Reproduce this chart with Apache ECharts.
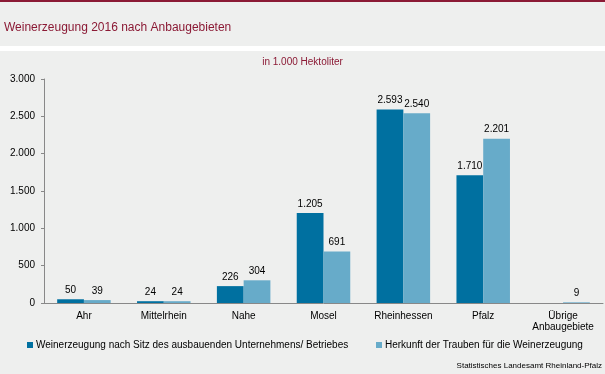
<!DOCTYPE html>
<html><head><meta charset="utf-8">
<script src="https://cdn.jsdelivr.net/npm/echarts@6/dist/echarts.min.js"></script>
<style>html,body{margin:0;padding:0;background:#fff;}#c{width:605px;height:374px;}</style>
</head><body><div id="c"></div>
<script>
const categories = ['Ahr', 'Mittelrhein', 'Nahe', 'Mosel', 'Rheinhessen', 'Pfalz', 'Übrige\nAnbaugebiete'];
const seriesNames = ['Weinerzeugung nach Sitz des ausbauenden Unternehmens/ Betriebes', 'Herkunft der Trauben für die Weinerzeugung'];
const sitzValues = [50, 24, 226, 1205, 2593, 1710, null];
const herkunftValues = [39, 24, 304, 691, 2540, 2201, 9];
const yTicks = [0, 500, 1000, 1500, 2000, 2500, 3000];

const fmt = v => String(v).replace(/\B(?=(\d{3})+(?!\d))/g, '.');
const FONT = 'Liberation Sans, Arial, sans-serif';
const chart = echarts.init(document.getElementById('c'), null, {renderer: 'canvas'});
const labelCfg = {show: true, position: 'top', distance: 4, color: '#000', fontSize: 10, fontFamily: FONT,
  formatter: p => p.value == null ? '' : fmt(p.value)};
chart.setOption({
  backgroundColor: '#eeefee',
  animation: false,
  graphic: [
    {type: 'rect', left: 0, top: 0, shape: {width: 605, height: 2}, style: {fill: '#8b1a35'}, z: 10},
    {type: 'rect', left: 0, top: 46, shape: {width: 605, height: 5}, style: {fill: '#ffffff'}, z: 10},
    {type: 'text', left: 4, top: 22, style: {text: 'Weinerzeugung 2016 nach Anbaugebieten', fill: '#8b1a35', fontSize: 12, fontFamily: FONT}, z: 10},
    {type: 'text', left: 'center', top: 57, style: {text: 'in 1.000 Hektoliter', fill: '#8b1a35', fontSize: 10, fontFamily: FONT}, z: 10},
    {type: 'text', right: 3, top: 362, style: {text: 'Statistisches Landesamt Rheinland-Pfalz', fill: '#000', fontSize: 8, fontFamily: FONT}, z: 10}
  ],
  legend: [
    {data: [seriesNames[0]], left: 27, top: 340, padding: 0, itemWidth: 6, itemHeight: 6, icon: 'rect',
     textStyle: {fontSize: 10, fontFamily: FONT, color: '#000', padding: [0, 0, 0, -2]}},
    {data: [seriesNames[1]], left: 376, top: 340, padding: 0, itemWidth: 6, itemHeight: 6, icon: 'rect',
     textStyle: {fontSize: 10, fontFamily: FONT, color: '#000', padding: [0, 0, 0, -2]}}
  ],
  grid: {left: 44, right: 2, top: 79, bottom: 71, containLabel: false},
  xAxis: {
    type: 'category', data: categories,
    axisLine: {lineStyle: {color: '#888', width: 1}},
    axisTick: {length: 3, lineStyle: {color: '#888'}},
    axisLabel: {color: '#000', fontSize: 10, fontFamily: FONT, margin: 8, lineHeight: 11, interval: 0}
  },
  yAxis: {
    type: 'value', min: 0, max: 3000, interval: 500,
    axisLine: {show: true, lineStyle: {color: '#888', width: 1}},
    axisTick: {show: true, length: 3, lineStyle: {color: '#888'}},
    splitLine: {show: false},
    axisLabel: {color: '#000', fontSize: 10, fontFamily: FONT, margin: 9, formatter: v => fmt(v)}
  },
  series: [
    {name: seriesNames[0], type: 'bar', data: sitzValues, itemStyle: {color: '#0070a0'}, barGap: '0%', barCategoryGap: '33%', label: labelCfg},
    {name: seriesNames[1], type: 'bar', data: herkunftValues, itemStyle: {color: '#67abc9'}, label: labelCfg}
  ]
});
</script></body></html>
